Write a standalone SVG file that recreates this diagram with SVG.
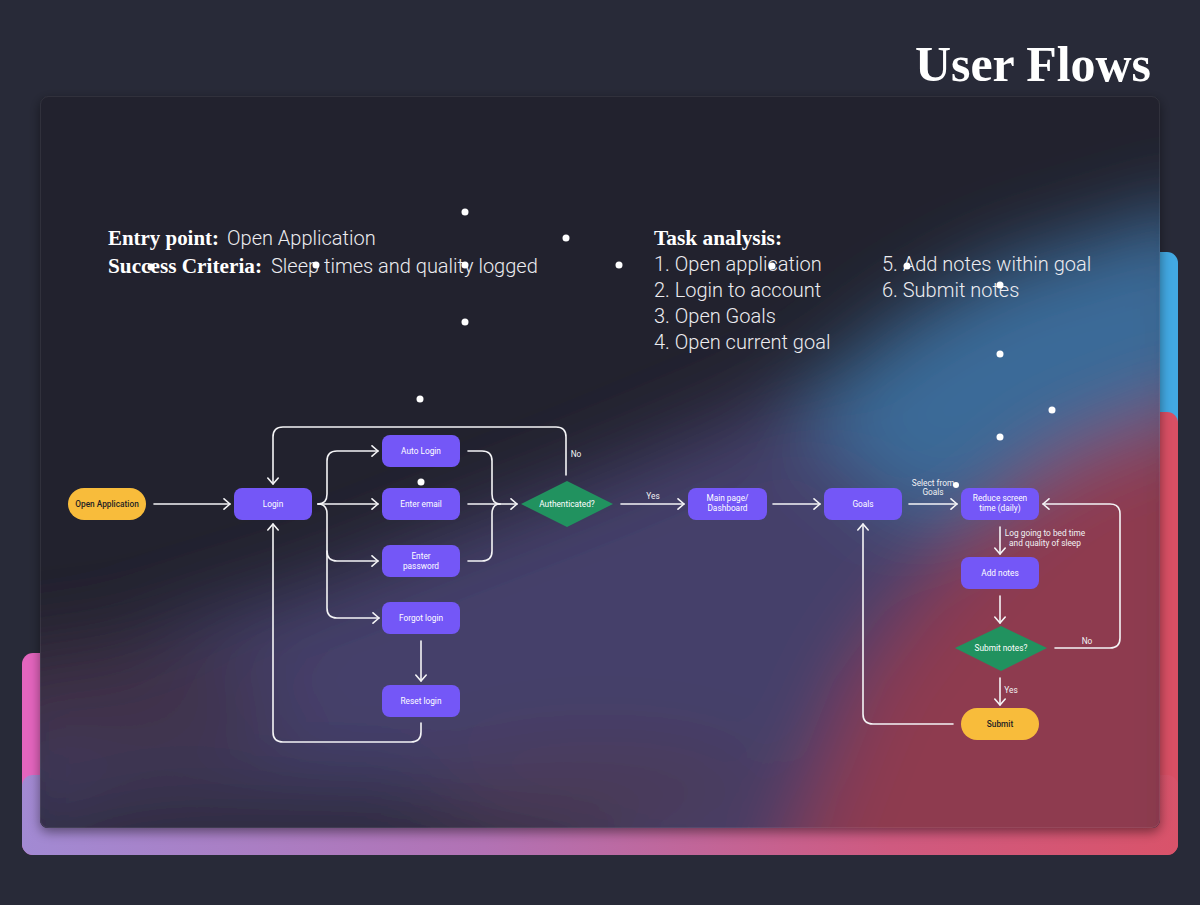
<svg xmlns="http://www.w3.org/2000/svg" width="1200" height="905" viewBox="0 0 1200 905">
<defs>
  <style>
    .conn{fill:none;stroke:#f4f4f6;stroke-width:1.6;stroke-linecap:round;stroke-linejoin:round}
    .arr{marker-end:url(#arr)}
    .box{fill:#7457f7}
    .pill{fill:#f8bc3b}
    .dia{fill:#21925f}
    .nt{font-family:Roboto,"Liberation Sans",sans-serif;font-size:8.3px;font-weight:400;fill:#ffffff;text-anchor:middle}
    .ntd{font-family:Roboto,"Liberation Sans",sans-serif;font-size:8.3px;font-weight:500;fill:#1e1e24;text-anchor:middle}
    .lbl{font-family:Roboto,"Liberation Sans",sans-serif;font-size:8.3px;font-weight:400;fill:#f2f2f4;text-anchor:middle}
    .hd{font-family:"Liberation Serif",serif;font-weight:bold;font-size:21px;fill:#ffffff}
    .tx{font-family:Roboto,"Liberation Sans",sans-serif;font-weight:300;font-size:20px;fill:#ececf0}
    .dot{fill:#ffffff}
  </style>
  <marker id="arr" viewBox="0 0 12 12" refX="10" refY="6" markerWidth="12" markerHeight="12" orient="auto" markerUnits="userSpaceOnUse">
    <path d="M4,0.8 L10,6 L4,11.2" fill="none" stroke="#f4f4f6" stroke-width="1.6" stroke-linecap="round" stroke-linejoin="round"/>
  </marker>
  <linearGradient id="strip" x1="0" y1="0" x2="1" y2="0">
    <stop offset="0" stop-color="#a28ad3"/>
    <stop offset="0.4" stop-color="#b272b4"/>
    <stop offset="0.75" stop-color="#cf5a80"/>
    <stop offset="1" stop-color="#d9536a"/>
  </linearGradient>
  <clipPath id="cardclip"><rect x="40" y="96" width="1120" height="732" rx="8"/></clipPath>
  <filter id="blur" x="-20%" y="-20%" width="140%" height="140%"><feGaussianBlur stdDeviation="40"/></filter>
  <filter id="shadow" x="-5%" y="-5%" width="110%" height="115%"><feDropShadow dx="0" dy="4" stdDeviation="6" flood-color="#000" flood-opacity="0.45"/></filter>
</defs>
<rect width="1200" height="905" fill="#282a38"/>
<text x="1151" y="81" font-family="'Liberation Serif',serif" font-weight="bold" font-size="51" fill="#ffffff" text-anchor="end" textLength="236" lengthAdjust="spacingAndGlyphs">User Flows</text>
<g id="backdrop">
  <rect x="22" y="653" width="230" height="202" rx="11" fill="#e465be"/>
  <rect x="1070" y="252" width="108" height="260" rx="11" fill="#42a9e3"/>
  <rect x="1070" y="412" width="108" height="443" rx="11" fill="#d94f64"/>
  <rect x="22" y="775" width="1156" height="80" rx="11" fill="url(#strip)"/>
</g>
<g id="card">
  <rect x="40" y="96" width="1120" height="732" rx="8" fill="#23242f" filter="url(#shadow)"/>
  <g clip-path="url(#cardclip)">
    <g filter="url(#blur)">
      <polygon points="0,680 300,590 600,475 850,370 1000,285 1220,215 1220,940 0,940" fill="#45416a"/>
      <ellipse cx="110" cy="705" rx="170" ry="60" fill="#40324a"/>
      <ellipse cx="300" cy="850" rx="330" ry="70" fill="#2d2b3d"/>
      <polygon points="790,410 900,320 1000,265 1220,200 1220,420 1060,460 930,530" fill="#3b6a98"/>
      <polygon points="1220,395 1060,455 950,560 860,680 760,940 1220,940" fill="#8e3b50"/>
      <ellipse cx="600" cy="790" rx="170" ry="50" fill="#4b3a58"/>
    </g>
  </g>
  <rect x="40.5" y="96.5" width="1119" height="731" rx="8" fill="none" stroke="#ffffff" stroke-opacity="0.07"/>
</g>
<g id="intro">
  <text class="hd" x="108" y="245" textLength="111" lengthAdjust="spacingAndGlyphs">Entry point:</text>
  <text class="tx" x="227" y="245">Open Application</text>
  <text class="hd" x="108" y="273" textLength="154" lengthAdjust="spacingAndGlyphs">Success Criteria:</text>
  <text class="tx" x="271" y="273">Sleep times and quality logged</text>
  <text class="hd" x="654" y="245" textLength="128" lengthAdjust="spacingAndGlyphs">Task analysis:</text>
  <text class="tx" x="654" y="271">1. Open application</text>
  <text class="tx" x="654" y="297">2. Login to account</text>
  <text class="tx" x="654" y="323">3. Open Goals</text>
  <text class="tx" x="654" y="349">4. Open current goal</text>
  <text class="tx" x="882" y="271">5. Add notes within goal</text>
  <text class="tx" x="882" y="297">6. Submit notes</text>
</g>
<g id="connectors">
  <path class="conn arr" d="M154,504 H230"/>
  <path class="conn arr" d="M318,504 Q327,504 327,494 V461 Q327,451 337,451 H378"/>
  <path class="conn arr" d="M318,504 H378"/>
  <path class="conn arr" d="M318,504 Q327,504 327,514 V551 Q327,561 337,561 H378"/>
  <path class="conn arr" d="M327,551 V608 Q327,618 337,618 H379"/>
  <path class="conn" d="M468,451 H482 Q492,451 492,461 V494 Q492,504 500,504"/>
  <path class="conn" d="M468,561 H482 Q492,561 492,551 V514 Q492,504 500,504"/>
  <path class="conn arr" d="M468,504 H517"/>
  <path class="conn arr" d="M566,475 V437 Q566,427 556,427 H283 Q273,427 273,437 V484"/>
  <path class="conn arr" d="M421,723 V732 Q421,742 411,742 H283 Q273,742 273,732 V524"/>
  <path class="conn arr" d="M421,641 V681"/>
  <path class="conn arr" d="M621,504 H684"/>
  <path class="conn arr" d="M773,504 H820"/>
  <path class="conn arr" d="M909,504 H957"/>
  <path class="conn arr" d="M1000,527 V554"/>
  <path class="conn arr" d="M1000,596 V623"/>
  <path class="conn arr" d="M1055,648 H1110 Q1120,648 1120,638 V514 Q1120,504 1110,504 H1043"/>
  <path class="conn arr" d="M1000,678 V705"/>
  <path class="conn arr" d="M953,724 H873 Q863,724 863,714 V524"/>
  <text class="lbl" x="576" y="457">No</text>
  <text class="lbl" x="653" y="499">Yes</text>
  <text class="lbl" x="933" y="486">Select from</text>
  <text class="lbl" x="933" y="495">Goals</text>
  <text class="lbl" x="1045" y="536">Log going to bed time</text>
  <text class="lbl" x="1045" y="546">and quality of sleep</text>
  <text class="lbl" x="1087" y="644">No</text>
  <text class="lbl" x="1011" y="693">Yes</text>
</g>
<g id="n-open"><rect class="pill" x="68" y="488" width="78" height="32" rx="16"/><text class="ntd" x="107" y="507">Open Application</text></g>
<g id="n-login"><rect class="box" x="234" y="488" width="78" height="32" rx="8"/><text class="nt" x="273" y="507">Login</text></g>
<g id="n-auto"><rect class="box" x="382" y="435" width="78" height="32" rx="8"/><text class="nt" x="421" y="454">Auto Login</text></g>
<g id="n-email"><rect class="box" x="382" y="488" width="78" height="32" rx="8"/><text class="nt" x="421" y="507">Enter email</text></g>
<g id="n-pass"><rect class="box" x="382" y="545" width="78" height="32" rx="8"/><text class="nt" x="421" y="559">Enter</text><text class="nt" x="421" y="569">password</text></g>
<g id="n-forgot"><rect class="box" x="382" y="602" width="78" height="32" rx="8"/><text class="nt" x="421" y="621">Forgot login</text></g>
<g id="n-reset"><rect class="box" x="382" y="685" width="78" height="32" rx="8"/><text class="nt" x="421" y="704">Reset login</text></g>
<g id="n-auth"><polygon class="dia" points="521,504 567,481 613,504 567,527"/><text class="nt" x="567" y="507">Authenticated?</text></g>
<g id="n-main"><rect class="box" x="688" y="488" width="79" height="32" rx="8"/><text class="nt" x="727.5" y="501">Main page/</text><text class="nt" x="727.5" y="511">Dashboard</text></g>
<g id="n-goals"><rect class="box" x="824" y="488" width="78" height="32" rx="8"/><text class="nt" x="863" y="507">Goals</text></g>
<g id="n-reduce"><rect class="box" x="961" y="488" width="78" height="32" rx="8"/><text class="nt" x="1000" y="501">Reduce screen</text><text class="nt" x="1000" y="511">time (daily)</text></g>
<g id="n-notes"><rect class="box" x="961" y="557" width="78" height="32" rx="8"/><text class="nt" x="1000" y="576">Add notes</text></g>
<g id="n-submitq"><polygon class="dia" points="955,648 1001,626 1047,648 1001,671"/><text class="nt" x="1001" y="651">Submit notes?</text></g>
<g id="n-submit"><rect class="pill" x="961" y="708" width="78" height="32" rx="16"/><text class="ntd" x="1000" y="727">Submit</text></g>
<g id="dots">
  <circle class="dot" cx="465" cy="212" r="3.5"/>
  <circle class="dot" cx="566" cy="238" r="3.5"/>
  <circle class="dot" cx="619" cy="265" r="3.5"/>
  <circle class="dot" cx="465" cy="322" r="3.5"/>
  <circle class="dot" cx="316" cy="265" r="3.5"/>
  <circle class="dot" cx="151" cy="267" r="3.5"/>
  <circle class="dot" cx="465" cy="265" r="3.5"/>
  <circle class="dot" cx="420" cy="399" r="3.5"/>
  <circle class="dot" cx="421" cy="482" r="3.5"/>
  <circle class="dot" cx="772" cy="266" r="3.5"/>
  <circle class="dot" cx="907" cy="266" r="3.5"/>
  <circle class="dot" cx="1000" cy="285" r="3.5"/>
  <circle class="dot" cx="1000" cy="354" r="3.5"/>
  <circle class="dot" cx="1052" cy="410" r="3.5"/>
  <circle class="dot" cx="1000" cy="437" r="3.5"/>
  <circle class="dot" cx="956" cy="485" r="3"/>
</g>
</svg>
